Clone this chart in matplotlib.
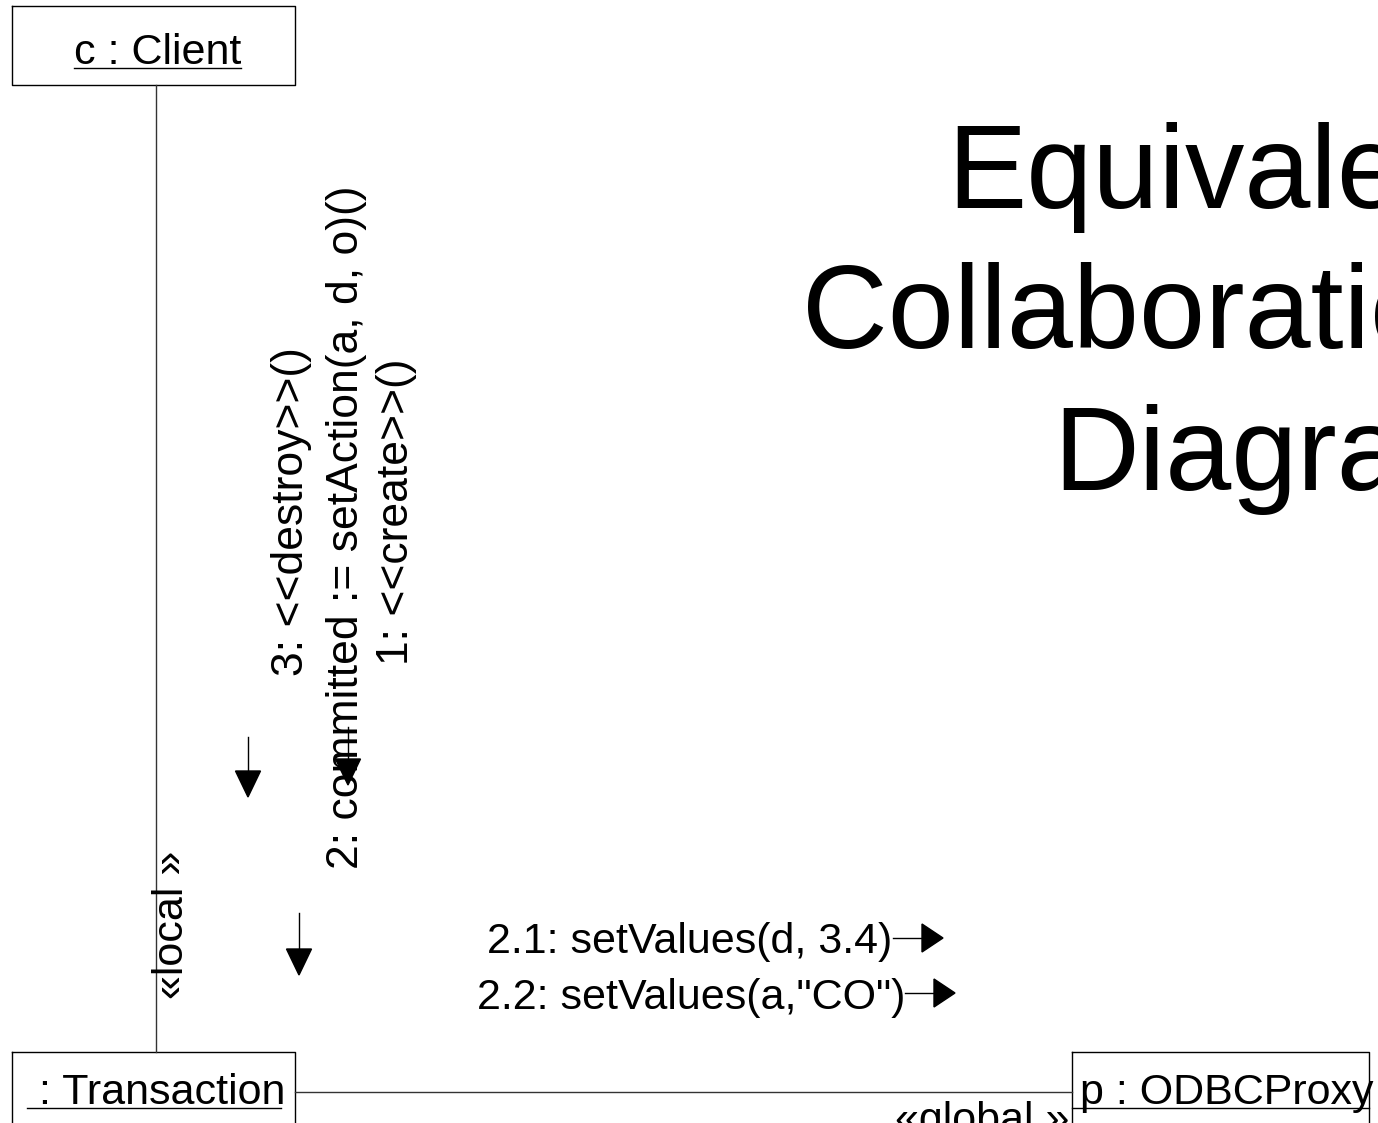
import matplotlib
matplotlib.use("Agg")
import matplotlib.pyplot as plt

plt.rcParams['font.family'] = ['Liberation Sans', 'DejaVu Sans']

W, H = 1378, 1123

# objects (boxes) of the collaboration diagram
obj_names = ["c : Client", " : Transaction", "p : ODBCProxy"]
obj_x0 = [12, 12, 1072]
obj_x1 = [295, 295, 1369]
obj_y0 = [6, 1052, 1052]
obj_y1 = [85, 1160, 1160]
obj_text_x = [74, 27, 1080]
obj_text_y = [64, 1104, 1104]
obj_ul = [(74, 241), (27, 281), (1072, 1369)]

# links between objects
link_x = [[156, 156], [295, 1072]]
link_y = [[85, 1052], [1092, 1092]]
link_labels = ["«local »", "«global »"]

# messages drawn sideways along the client link
msg_labels = ["3: <<destroy>>()", "2: committed := setAction(a, d, o)()", "1: <<create>>()"]
msg_x = [303, 358, 408]
msg_y = [512, 527, 512]
down_x = [248, 348, 299]
down_y0 = [737, 727, 913]
down_y1 = [797, 785, 975]

# messages along the global link
sv_labels = ["2.1: setValues(d, 3.4)", "2.2: setValues(a,\"CO\")"]
sv_x = [487, 477]
sv_y = [938, 993]
right_x0 = [893, 905]
right_x1 = [943, 955]

title_lines = ["Equivalent", "Collaboration", "Diagram"]
title_base = [208, 348, 490]

fs = 31

fig = plt.figure(figsize=(W / 100, H / 100), dpi=100)
ax = fig.add_axes([0, 0, 1, 1])
ax.set_xlim(0, W)
ax.set_ylim(H, 0)
ax.axis('off')

# boxes
for name, x0, x1, y0, y1, tx, ty, ul in zip(obj_names, obj_x0, obj_x1, obj_y0, obj_y1,
                                             obj_text_x, obj_text_y, obj_ul):
    ax.plot([x0, x1, x1, x0, x0], [y0, y0, y1, y1, y0], color='black', lw=1.0)
    ax.text(tx, ty, name, fontsize=fs, ha='left', va='baseline')
    ax.plot(ul, [ty + 4, ty + 4], color='black', lw=1.0)

# links
for xs, ys in zip(link_x, link_y):
    ax.plot(xs, ys, color='#333333', lw=1.0)
ax.text(183, 925, link_labels[0], fontsize=fs, rotation=90, rotation_mode='anchor',
        ha='center', va='baseline')
ax.text(895, 1132, link_labels[1], fontsize=fs, ha='left', va='baseline')

# sideways messages
for s, x, y in zip(msg_labels, msg_x, msg_y):
    ax.text(x, y, s, fontsize=32, rotation=90, rotation_mode='anchor',
            ha='center', va='baseline')

hw, hl = 12.5, 26
for x, y0, y1 in zip(down_x, down_y0, down_y1):
    ax.plot([x, x], [y0, y1 - hl], color='black', lw=1.0)
    ax.fill([x - hw, x + hw, x], [y1 - hl, y1 - hl, y1], color='black')

for s, x, y in zip(sv_labels, sv_x, sv_y):
    ax.text(x, y, s, fontsize=fs, ha='left', va='center_baseline')
for y, x0, x1 in zip(sv_y, right_x0, right_x1):
    ax.plot([x0, x1 - 21], [y, y], color='black', lw=1.0)
    ax.fill([x1 - 21, x1 - 21, x1], [y - 14, y + 14, y], color='black')

# title
for line, yb in zip(title_lines, title_base):
    ax.text(1502, yb, line, fontsize=85.5, ha='right', va='baseline')

fig.savefig("out.png", dpi=100)
